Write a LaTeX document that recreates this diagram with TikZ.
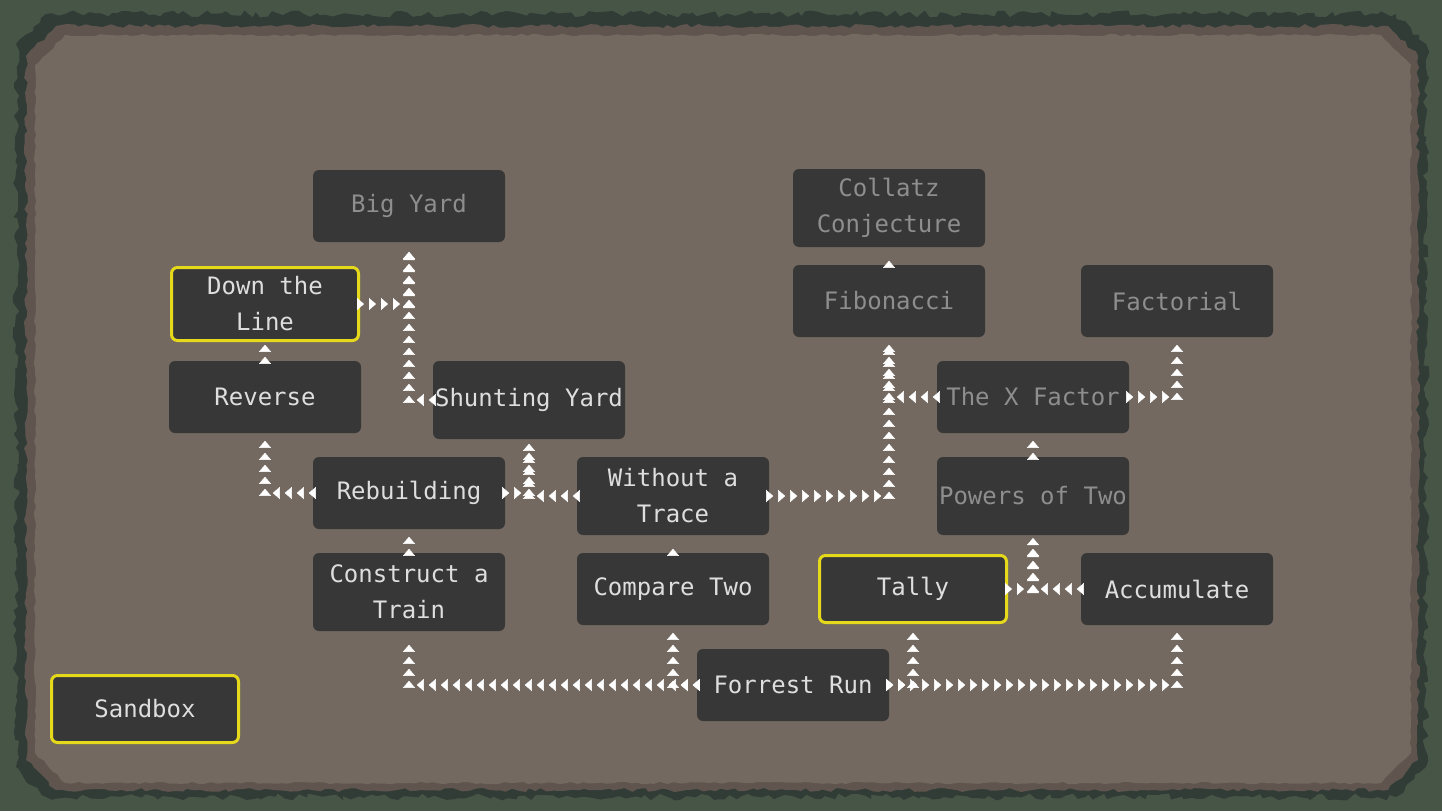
\documentclass[tikz,border=0pt]{standalone}
\usepackage{fontspec}
\setmonofont{DejaVu Sans Mono}
\usetikzlibrary{arrows.meta,decorations.markings,decorations.pathmorphing}
\definecolor{outergreen}{HTML}{475547}
\definecolor{ringdark}{HTML}{313C36}
\definecolor{ringbrown}{HTML}{5F544E}
\definecolor{floor}{HTML}{736960}
\definecolor{tile}{HTML}{373737}
\definecolor{label}{HTML}{DEDEDE}
\definecolor{dimlabel}{HTML}{8E8E8E}
\definecolor{gold}{HTML}{E6D81A}
\begin{document}
\begin{tikzpicture}[x=1pt,y=-1pt,
  level/.style={fill=tile,rounded corners=6pt,minimum width=192pt,minimum height=72pt,
    inner sep=0pt,align=center,text=label,font=\ttfamily\fontsize{24}{36}\selectfont},
  locked/.style={level,text=dimlabel},
  current/.style={level,draw=gold,line width=3pt,minimum width=187pt},
  link/.style={decorate,decoration={markings,
    mark=between positions 4pt and -2pt step 12pt with
      {\arrow{Triangle[width=12pt,length=7pt,color=white]}}}}]
  \useasboundingbox (0,0) rectangle (1442,811);
  \fill[outergreen] (0,0) rectangle (1442,811);
  \pgfmathsetseed{7}
  % jagged rim of the map
  \foreach \xa/\ya/\xb/\yb/\c/\a in {16/14/1426/797/ringdark/3.5, 26/26/1418/790/ringbrown/2, 35/35/1411/783/floor/1.2}
    \fill[\c,decorate,decoration={random steps,segment length=6pt,amplitude=\a pt}]
      (\xa+30,\ya) -- (\xb-30,\ya) -- (\xb,\ya+30) -- (\xb,\yb-30) -- (\xb-30,\yb)
      -- (\xa+30,\yb) -- (\xa,\yb-30) -- (\xa,\ya+30) -- cycle;

  % levels
  \node[locked] (big) at (409,206) {Big Yard};
  \node[current,minimum height=73pt] (down) at (265,304) {Down the\\Line};
  \node[level] (reverse) at (265,397) {Reverse};
  \node[level,minimum height=78pt] (shunt) at (529,400) {Shunting Yard};
  \node[level] (rebuild) at (409,493) {Rebuilding};
  \node[level,minimum height=78pt] (trace) at (673,496) {Without a\\Trace};
  \node[level,minimum height=78pt] (train) at (409,592) {Construct a\\Train};
  \node[level] (compare) at (673,589) {Compare Two};
  \node[level] (forrest) at (793,685) {Forrest Run};
  \node[current,minimum height=67pt] (sandbox) at (145,709) {Sandbox};
  \node[locked,minimum height=78pt] (collatz) at (889,208) {Collatz\\Conjecture};
  \node[locked] (fib) at (889,301) {Fibonacci};
  \node[locked] (fact) at (1177,301) {Factorial};
  \node[locked] (xfactor) at (1033,397) {The X Factor};
  \node[locked,minimum height=78pt] (powers) at (1033,496) {Powers of Two};
  \node[current,minimum height=67pt] (tally) at (913,589) {Tally};
  \node[level] (accum) at (1177,589) {Accumulate};

  % unlocks
  \path[link] (forrest.west) -| (train.south);
  \path[link] (forrest.west) -| (compare.south);
  \path[link] (forrest.east) -| (tally.south);
  \path[link] (forrest.east) -| (accum.south);
  \path[link] (train.north) -- (rebuild.south);
  \path[link] (compare.north) -- (trace.south);
  \path[link] (tally.east) -| (powers.south);
  \path[link] (accum.west) -| (powers.south);
  \path[link] (powers.north) -- (xfactor.south);
  \path[link] (xfactor.west) -| (fib.south);
  \path[link] (xfactor.east) -| (fact.south);
  \path[link] (trace.east) -| (fib.south);
  \path[link] (fib.north) -- (collatz.south);
  \path[link] (rebuild.west) -| (reverse.south);
  \path[link] (rebuild.east) -| (shunt.south);
  \path[link] (trace.west) -| (shunt.south);
  \path[link] (shunt.west) -| (big.south);
  \path[link] (down.east) -| (big.south);
  \path[link] (reverse.north) -- (down.south);
\end{tikzpicture}
\end{document}
